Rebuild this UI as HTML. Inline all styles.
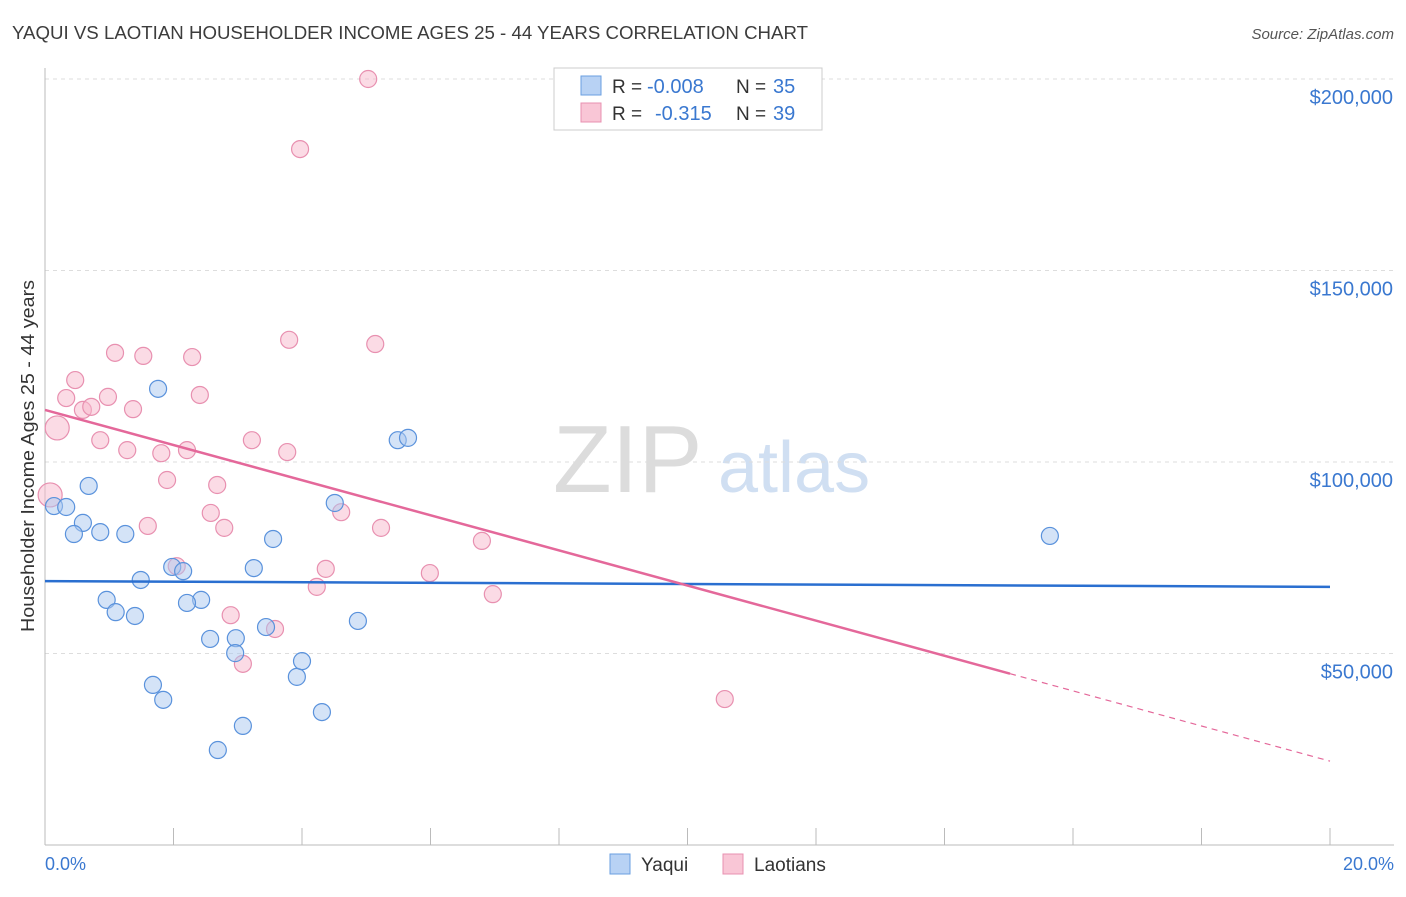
<!DOCTYPE html>
<html><head><meta charset="utf-8"><style>
body{margin:0;background:#fff;font-family:"Liberation Sans",sans-serif;}
svg text{font-family:"Liberation Sans",sans-serif;}
</style></head><body>
<svg id="chart" width="1406" height="892" xmlns="http://www.w3.org/2000/svg">
<text x="12" y="39" font-size="18" fill="#3c3c3c" textLength="796" lengthAdjust="spacingAndGlyphs">YAQUI VS LAOTIAN HOUSEHOLDER INCOME AGES 25 - 44 YEARS CORRELATION CHART</text>
<text x="1394" y="39" font-size="15" fill="#555" text-anchor="end" font-style="italic">Source: ZipAtlas.com</text>
<g>
<text x="553" y="492" font-size="96" fill="#dcdcdc" font-family="Liberation Serif">ZIP</text>
<text x="718" y="492" font-size="72" fill="#d0dff2">atlas</text>
</g>
<g id="grid"></g>
<g id="axes"></g>
<g id="marks"></g>
<text transform="translate(34,456) rotate(-90)" font-size="18" fill="#333" text-anchor="middle" textLength="352" lengthAdjust="spacingAndGlyphs">Householder Income Ages 25 - 44 years</text>
<text x="45" y="870" font-size="18" fill="#3a78d0">0.0%</text>
<text x="1394" y="870" font-size="18" fill="#3a78d0" text-anchor="end">20.0%</text>
<g>
<rect x="554" y="68" width="268" height="62" fill="#fff" stroke="#ccc"/>
<rect x="581" y="76" width="20" height="19" fill="#b8d2f4" stroke="#6a9fe0"/>
<rect x="581" y="103" width="20" height="19" fill="#f9c6d6" stroke="#e890b0"/>
<text x="612" y="93" font-size="19" fill="#333">R =</text>
<text x="647" y="93" font-size="20" fill="#3a78d0">-0.008</text>
<text x="736" y="93" font-size="19" fill="#333">N =</text>
<text x="773" y="93" font-size="20" fill="#3a78d0">35</text>
<text x="612" y="120" font-size="19" fill="#333">R =</text>
<text x="655" y="120" font-size="20" fill="#3a78d0">-0.315</text>
<text x="736" y="120" font-size="19" fill="#333">N =</text>
<text x="773" y="120" font-size="20" fill="#3a78d0">39</text>
</g>
<g>
<rect x="610" y="854" width="20" height="20" fill="#b8d2f4" stroke="#6a9fe0"/>
<text x="641" y="871" font-size="19" fill="#333">Yaqui</text>
<rect x="723" y="854" width="20" height="20" fill="#f9c6d6" stroke="#e890b0"/>
<text x="754" y="871" font-size="19" fill="#333">Laotians</text>
</g>
</svg>
<script>
const yTicks=[50000,100000,150000,200000];
const yTickLabels=["$50,000","$100,000","$150,000","$200,000"];
const xTicks=[0,2,4,6,8,10,12,14,16,18,20];
const yaquiX=[0.14,0.33,0.68,0.59,0.45,0.86,1.25,1.76,1.49,0.96,1.10,1.40,1.98,2.15,2.43,2.21,1.68,1.84,2.57,2.97,2.96,2.69,3.08,3.25,3.55,3.44,3.92,4.00,4.31,4.51,4.87,5.49,5.65,15.64];
const yaquiY=[88500,88250,93750,84100,81200,81700,81200,119100,69200,64000,60800,59800,72600,71500,64000,63200,41800,37900,53800,54000,50100,24800,31100,72300,79900,56900,43900,48000,34700,89300,58500,105700,106300,80700];
const laoX=[5.03,3.97,1.09,1.53,2.29,3.80,5.14,0.47,0.33,0.59,0.72,0.98,1.37,2.41,0.19,0.86,1.28,1.81,2.21,3.22,3.77,1.90,2.68,2.58,1.60,2.79,4.61,5.23,6.80,2.05,4.37,5.99,4.23,6.97,2.89,3.58,3.08,10.58,0.08];
const laoY=[200000,181700,128500,127700,127400,131900,130800,121400,116700,113600,114400,117000,113800,117500,108900,105700,103100,102300,103100,105700,102600,95300,94000,86700,83300,82800,86900,82800,79400,72800,72100,71000,67400,65500,60000,56400,47300,38100,91400];
const yaquiTrend=[68900,67400];
const laoTrend=[113600,21900];
const laoSolidEnd=15.02;
const NS="http://www.w3.org/2000/svg";
const X=v=>45+v/20*1285;
const Y=v=>845-v/50000*191.5;
function mk(tag,attrs,parent){const e=document.createElementNS(NS,tag);for(const k in attrs)e.setAttribute(k,attrs[k]);parent.appendChild(e);return e;}
const grid=document.getElementById('grid'),axes=document.getElementById('axes'),marks=document.getElementById('marks');
yTicks.forEach((t,i)=>{
 const l=mk('line',{x1:45,x2:1394,y1:Y(t),y2:Y(t),stroke:'#ddd','stroke-dasharray':'4,4'},grid);
 
 
 const tx=mk('text',{x:1393,y:Y(t)+25,'font-size':20,fill:'#3a78d0','text-anchor':'end'},axes);
 tx.textContent=yTickLabels[i];
 
 
});
const ya=mk('line',{x1:45,x2:45,y1:68,y2:845,stroke:'#bbb'},axes);


const xa=mk('line',{x1:45,x2:1394,y1:845,y2:845,stroke:'#bbb'},axes);


xTicks.forEach(t=>{
 const l=mk('line',{x1:X(t),x2:X(t),y1:828,y2:845,stroke:'#bbb'},axes);
 
 
});
function dots(xs,ys,fill,stroke,name){
 xs.forEach((x,i)=>{
  const big=(name==='laotians-point'&&(i===14||i===38));
  const c=mk('circle',{cx:X(x),cy:Y(ys[i]),r:big?12:8.5,fill:fill,'fill-opacity':0.5,stroke:stroke,'stroke-width':1.2},marks);
  
  
 });
}
dots(laoX,laoY,'#f7b8cc','#e890b0','laotians-point');
dots(yaquiX,yaquiY,'#a9c8f0','#5a92dc','yaqui-point');
const bt=mk('line',{x1:X(0),y1:Y(yaquiTrend[0]),x2:X(20),y2:Y(yaquiTrend[1]),stroke:'#2a6fd0','stroke-width':2.5},marks);


const lv=x=>laoTrend[0]+(laoTrend[1]-laoTrend[0])*x/20;
const pt=mk('line',{x1:X(0),y1:Y(lv(0)),x2:X(laoSolidEnd),y2:Y(lv(laoSolidEnd)),stroke:'#e4689a','stroke-width':2.5},marks);


const pd=mk('line',{x1:X(laoSolidEnd),y1:Y(lv(laoSolidEnd)),x2:X(20),y2:Y(lv(20)),stroke:'#e4689a','stroke-width':1.2,'stroke-dasharray':'6,5'},marks);


</script>
</body></html>
